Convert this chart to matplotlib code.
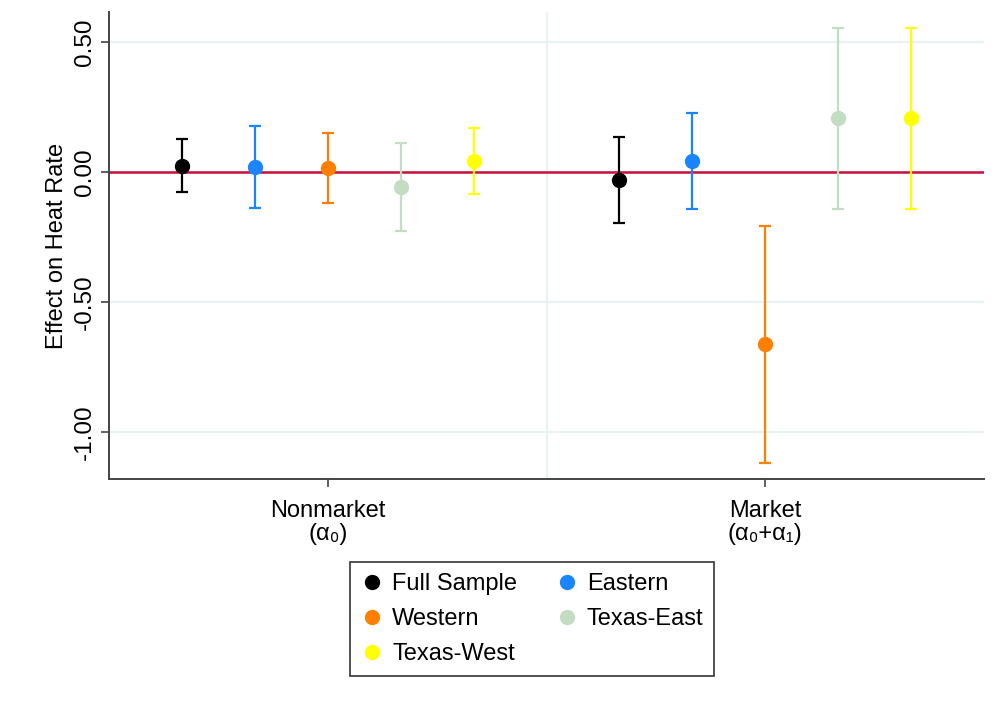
import matplotlib
matplotlib.use("Agg")
import matplotlib.pyplot as plt
from matplotlib.lines import Line2D

plt.rcParams['font.family'] = ['Liberation Sans', 'DejaVu Sans']

# Data
groups = ["Nonmarket\n(α₀)", "Market\n(α₀+α₁)"]
series = ["Full Sample", "Eastern", "Western", "Texas-East", "Texas-West"]
colors = ["#000000", "#1A85FF", "#FF8000", "#C2DDC2", "#FFFF00"]

est_nonmarket = [0.024, 0.018, 0.014, -0.058, 0.042]
lo_nonmarket = [-0.076, -0.138, -0.119, -0.226, -0.086]
hi_nonmarket = [0.126, 0.177, 0.149, 0.112, 0.167]

est_market = [-0.031, 0.042, -0.663, 0.206, 0.206]
lo_market = [-0.195, -0.144, -1.118, -0.141, -0.141]
hi_market = [0.136, 0.228, -0.208, 0.554, 0.554]

yticks = [0.5, 0.0, -0.5, -1.0]
ytick_labels = ["0.50", "0.00", "-0.50", "-1.00"]

W, H = 998, 707
fig = plt.figure(figsize=(W / 100, H / 100), dpi=100)
ax = fig.add_axes([109 / W, 1 - 479 / H, (984 - 109) / W, (479 - 12) / H])

group_centers = [0, 6]
offsets = [-2, -1, 0, 1, 2]
grid_col = "#EAF1F3"

for yv in yticks:
    ax.axhline(yv, color=grid_col, lw=1.6, zorder=0)
ax.axvline(3, color=grid_col, lw=1.6, zorder=0)
ax.axhline(0, color="#C8103C", lw=1.8, zorder=1)

data = [(est_nonmarket, lo_nonmarket, hi_nonmarket), (est_market, lo_market, hi_market)]
for gi, (est, lo, hi) in enumerate(data):
    for si in range(len(series)):
        x = group_centers[gi] + offsets[si]
        ax.errorbar([x], [est[si]],
                    yerr=[[est[si] - lo[si]], [hi[si] - est[si]]],
                    fmt='o', color=colors[si], ms=10, elinewidth=1.6,
                    capsize=4.5, capthick=1.6, zorder=3)

ax.set_xlim(-3, 9)
ax.set_ylim(-1.181, 0.615)
ax.set_xticks(group_centers)
ax.set_xticklabels(groups, fontsize=17, linespacing=1.05)
ax.set_yticks(yticks)
ax.set_yticklabels(ytick_labels, fontsize=17.5, rotation=90, va='center')
ax.set_ylabel("Effect on Heat Rate", fontsize=17, labelpad=4)

for s in ["top", "right"]:
    ax.spines[s].set_visible(False)
for s in ["left", "bottom"]:
    ax.spines[s].set_color("#444444")
    ax.spines[s].set_linewidth(1.4)
ax.tick_params(axis='both', colors="#444444", labelcolor="black", length=6, width=1.2)
ax.tick_params(axis='x', pad=9)

handles = [Line2D([0], [0], marker='o', linestyle='none', color=c, markersize=10) for c in colors]
order = [0, 2, 4, 1, 3]
leg = fig.legend([handles[i] for i in order], [series[i] for i in order],
                 ncol=2, loc='center', bbox_to_anchor=(532 / W, 1 - 619 / H),
                 fontsize=17, frameon=True, fancybox=False, edgecolor="black",
                 handletextpad=0.35, columnspacing=1.6, labelspacing=0.55,
                 borderpad=0.45, handlelength=1.0, borderaxespad=0)
leg.get_frame().set_linewidth(1.2)

fig.savefig("out.png", dpi=100)
